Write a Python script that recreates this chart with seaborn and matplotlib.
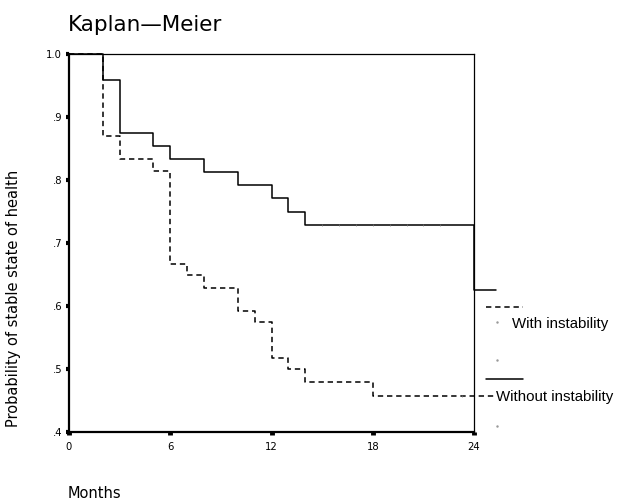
import pandas as pd
import matplotlib
matplotlib.use("Agg")
import matplotlib.pyplot as plt
import seaborn as sns

# ==========================================
#   DATA
# ==========================================
groups = ["Without instability", "With instability"]

months_without = [0, 2, 3, 5, 6, 8, 10, 12, 13, 14, 24, 25.3]
surv_without = [1.0, 0.958, 0.875, 0.854, 0.833, 0.8125, 0.792, 0.771, 0.750, 0.729, 0.625, 0.625]

months_with = [0, 2, 3, 5, 6, 7, 8, 10, 11, 12, 13, 14, 18, 25.3]
surv_with = [1.0, 0.870, 0.834, 0.814, 0.666, 0.649, 0.629, 0.592, 0.575, 0.518, 0.500, 0.480, 0.457, 0.457]

# censored observations (tiny ticks on the curves)
cens_without = [15, 16, 17, 18, 19, 20, 21, 22]
cens_with = [23.3]

x_ticks = [0, 6, 12, 18, 24]
y_ticks = [0.4, 0.5, 0.6, 0.7, 0.8, 0.9, 1.0]
y_ticklabels = [".4", ".5", ".6", ".7", ".8", ".9", "1.0"]

# ==========================================
#   STYLE
# ==========================================
sns.set_style("white")
plt.rcParams["font.family"] = ["DejaVu Sans"]
plt.rcParams["text.color"] = "black"
plt.rcParams["axes.labelcolor"] = "black"
plt.rcParams["xtick.color"] = "black"
plt.rcParams["ytick.color"] = "black"

df = pd.concat([
    pd.DataFrame({"month": months_without, "surv": surv_without, "group": groups[0]}),
    pd.DataFrame({"month": months_with, "surv": surv_with, "group": groups[1]}),
], ignore_index=True)

fig = plt.figure(figsize=(6.2, 5.0), dpi=100)
ax = fig.add_axes([69 / 620, 68 / 500, 405 / 620, 378 / 500])

sns.lineplot(data=df, x="month", y="surv", hue="group", style="group",
             palette={groups[0]: "black", groups[1]: "black"},
             dashes={groups[0]: "", groups[1]: (3.5, 2.5)},
             drawstyle="steps-post", estimator=None, sort=False,
             linewidth=1.1, legend=False, ax=ax)
for ln in ax.lines:
    ln.set_clip_on(False)

# censor marks (very faint in the original)
ax.plot(cens_without, [surv_without[9]] * len(cens_without), ls="none",
        marker="|", ms=1.6, mew=0.5, color="#777777", clip_on=False)
ax.plot(cens_with, [surv_with[-1]] * len(cens_with), ls="none",
        marker="|", ms=1.6, mew=0.5, color="#777777", clip_on=False)

ax.set_xlim(0, 24)
ax.set_ylim(0.4, 1.0)
ax.set_xticks(x_ticks)
ax.set_yticks(y_ticks)
ax.set_yticklabels(y_ticklabels)
ax.tick_params(axis="y", left=True, length=2.5, width=3.0, direction="out",
               pad=2.5, labelsize=7.2, color="black")
ax.tick_params(axis="x", bottom=True, length=2.2, width=3.5, direction="out",
               pad=5, labelsize=7.2, color="black")

for side in ["left", "bottom"]:
    ax.spines[side].set_linewidth(1.6)
for side in ["top", "right"]:
    ax.spines[side].set_linewidth(0.9)
for sp in ax.spines.values():
    sp.set_color("black")

ax.set_xlabel("")
ax.set_ylabel("Probability of stable state of health", fontsize=10.5)
ax.yaxis.set_label_coords(-0.118, 0.354)

# custom legend, SPSS style
ax.plot([1.030, 1.121], [0.331, 0.331], transform=ax.transAxes, clip_on=False,
        color="black", lw=1.1, ls=(0, (3.5, 2.5)))
ax.plot([1.030, 1.121], [0.141, 0.141], transform=ax.transAxes, clip_on=False,
        color="black", lw=1.1)
ax.text(1.093, 0.286, groups[1], transform=ax.transAxes, fontsize=10.8,
        family=["Liberation Sans"], va="center", ha="left")
ax.text(1.054, 0.093, groups[0], transform=ax.transAxes, fontsize=10.8,
        family=["Liberation Sans"], va="center", ha="left")
ax.plot([1.057, 1.057, 1.057], [0.291, 0.190, 0.016], transform=ax.transAxes,
        clip_on=False, ls="none", marker=".", ms=1.5, color="#999999")

fig.text(68 / 620, 1 - 25 / 500, "Kaplan\u2014Meier", fontsize=15.5,
         va="center", ha="left")
fig.text(68 / 620, 0.004, "Months", fontsize=10.5, va="baseline", ha="left")

fig.savefig("out.png", dpi=100)
